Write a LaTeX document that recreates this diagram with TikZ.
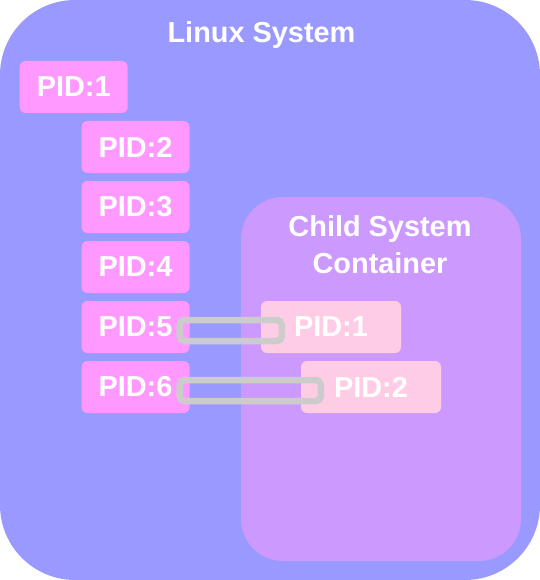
\documentclass[tikz,border=0pt]{standalone}
\usepackage{fontspec}
\setmainfont{Liberation Sans}
\usepackage{tikz}
\usetikzlibrary{positioning}
\definecolor{hostblue}{HTML}{9999FF}
\definecolor{hostpink}{HTML}{FF99FF}
\definecolor{childlilac}{HTML}{CC99FF}
\definecolor{childpink}{HTML}{FFCCE6}
\definecolor{linkgray}{HTML}{CCCCCC}
\begin{document}
\begin{tikzpicture}[x=1bp,y=-1bp,
  label/.style={text=white,font=\bfseries\fontsize{29}{36.6}\selectfont},
  pidbox/.style={label,fill=hostpink,rounded corners=6bp,minimum width=108bp,minimum height=52bp,inner sep=0pt},
  childbox/.style={pidbox,fill=childpink,minimum width=140bp},
  link/.style={draw=linkgray,line width=6.5bp,rounded corners=5bp}]
\useasboundingbox (0,0) rectangle (540,580);

\fill[hostblue,rounded corners=75bp] (0,0) rectangle (540,580);
\node[label,anchor=base] (host) at (261.5,42.3) {Linux System};

\fill[childlilac,rounded corners=42bp] (241,197) rectangle (521,561);
\node[label,anchor=base,align=center] (child) at (380,273.3) {Child System\\Container};

\node[pidbox] (p1) at (73.7,87) {PID:1};
\foreach \i in {2,...,6}
  \node[pidbox] (p\i) at (135.5,{27+60*\i}) {PID:\i};

\node[childbox] (c1) at (331,327) {PID:1};
\node[childbox] (c2) at (371,387) {PID:2};

% pid mapping
\draw[link] ([xshift=-10bp,yshift=7bp]p5.east) rectangle ([xshift=21bp,yshift=-14bp]c1.west);
\draw[link] ([xshift=-10bp,yshift=7bp]p6.east) rectangle ([xshift=20bp,yshift=-14bp]c2.west);
\end{tikzpicture}
\end{document}
